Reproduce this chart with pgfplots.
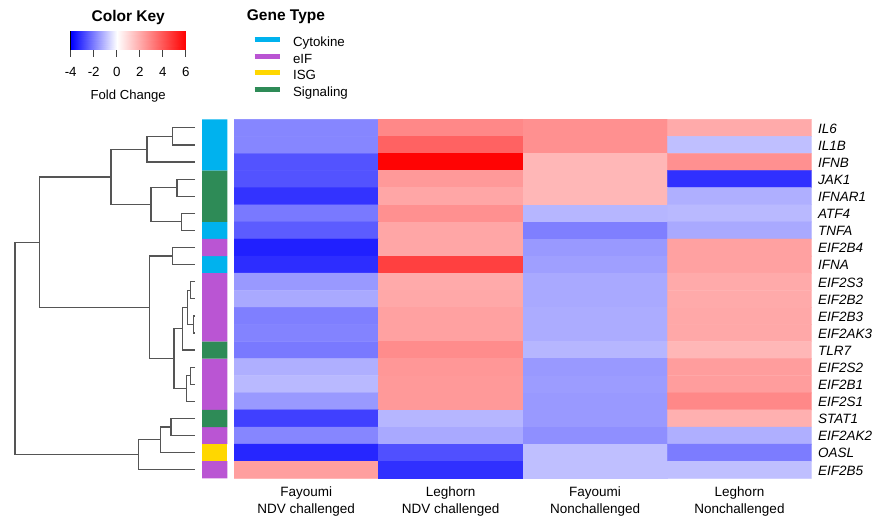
\documentclass[border=0pt]{standalone}
\usepackage{pgfplots}
\pgfplotsset{compat=1.18}
\usepackage{pgfplotstable}
\usepackage{fontspec}
\setmainfont{Liberation Sans}

\definecolor{cyto}{RGB}{0,178,238}
\definecolor{eif}{RGB}{186,85,211}
\definecolor{isg}{RGB}{255,215,0}
\definecolor{sig}{RGB}{46,139,87}
\definecolor{dendro}{RGB}{85,85,85}

% fold change per gene (row) and condition (column)
\pgfplotstableread{
col row fc
0.5 1 -1.9
1.5 1 2.8
2.5 1 2.6
3.5 1 2.0
0.5 2 -1.9
1.5 2 3.7
2.5 2 2.6
3.5 2 -1.0
0.5 3 -2.7
1.5 3 5.9
2.5 3 1.7
3.5 3 2.6
0.5 4 -2.7
1.5 4 2.4
2.5 4 1.7
3.5 4 -3.25
0.5 5 -3.2
1.5 5 2.1
2.5 5 1.7
3.5 5 -1.25
0.5 6 -2.1
1.5 6 2.6
2.5 6 -1.15
3.5 6 -1.1
0.5 7 -2.55
1.5 7 2.1
2.5 7 -2.0
3.5 7 -1.35
0.5 8 -3.5
1.5 8 2.1
2.5 8 -1.6
3.5 8 2.2
0.5 9 -3.3
1.5 9 4.5
2.5 9 -1.5
3.5 9 2.2
0.5 10 -1.6
1.5 10 2.0
2.5 10 -1.35
3.5 10 2.0
0.5 11 -1.35
1.5 11 2.05
2.5 11 -1.35
3.5 11 2.0
0.5 12 -2.0
1.5 12 2.2
2.5 12 -1.3
3.5 12 2.05
0.5 13 -1.95
1.5 13 2.2
2.5 13 -1.3
3.5 13 2.05
0.5 14 -2.1
1.5 14 2.7
2.5 14 -1.15
3.5 14 1.7
0.5 15 -1.25
1.5 15 2.45
2.5 15 -1.6
3.5 15 2.3
0.5 16 -1.1
1.5 16 2.4
2.5 16 -1.55
3.5 16 2.3
0.5 17 -1.6
1.5 17 2.4
2.5 17 -1.6
3.5 17 2.8
0.5 18 -3.0
1.5 18 -1.15
2.5 18 -1.6
3.5 18 1.85
0.5 19 -1.9
1.5 19 -1.35
2.5 19 -1.75
3.5 19 -1.25
0.5 20 -3.4
1.5 20 -2.75
2.5 20 -1.0
3.5 20 -2.05
0.5 21 2.25
1.5 21 -3.25
2.5 21 -1.0
3.5 21 -1.0
}\foldtable

% colour key gradient
\pgfplotstableread{
x y c
-4 0 -4
0 0 0
6 0 6
-4 1 -4
0 1 0
6 1 6
}\keytable

\pgfplotsset{
  fcmap/.style={
    colormap={foldchange}{rgb255(0)=(0,0,255) rgb255(4)=(255,255,255) rgb255(10)=(255,0,0)},
    point meta min=-4, point meta max=6},
  rows/.style={scale only axis, height=359pt, ymin=0.5, ymax=21.5, y dir=reverse},
  dend/.style={dendro, line width=1.2pt, line join=miter},
}

\begin{document}
\begin{tikzpicture}
\useasboundingbox (0,0) rectangle (877pt,517pt);

% ---------- heatmap ----------
\begin{axis}[
  rows, fcmap,
  at={(234pt,38.7pt)}, anchor=south west,
  width=577.7pt,
  xmin=0, xmax=4,
  axis line style={draw=none},
  tick style={draw=none},
  major tick length=0pt,
  xtick={0.5,1.5,2.5,3.5},
  xticklabels={{Fayoumi\\NDV challenged},{Leghorn\\NDV challenged},{Fayoumi\\Nonchallenged},{Leghorn\\Nonchallenged}},
  xticklabel style={align=center, font=\fontsize{13.5}{17.3}\selectfont, anchor=north, inner sep=0pt, yshift=-8pt},
  ytick={1,...,21},
  yticklabels={IL6,IL1B,IFNB,JAK1,IFNAR1,ATF4,TNFA,EIF2B4,IFNA,EIF2S3,EIF2B2,EIF2B3,EIF2AK3,TLR7,EIF2S2,EIF2B1,EIF2S1,STAT1,EIF2AK2,OASL,EIF2B5},
  yticklabel pos=right,
  yticklabel style={font=\fontsize{13.5}{16}\selectfont\itshape, anchor=base west, inner sep=0pt, xshift=6.3pt, yshift=-5.3pt},
]
\addplot[matrix plot*, mesh/cols=4, point meta=explicit, shader=flat corner]
  table[x=col, y=row, meta=fc] {\foldtable};
\end{axis}

% ---------- gene type side bar + legend ----------
\begin{axis}[
  rows,
  at={(202pt,38.7pt)}, anchor=south west,
  width=25.3pt,
  xmin=0, xmax=1,
  hide axis,
  legend style={at={(1.976,1.2323)}, anchor=north west, draw=none, fill=none,
    inner sep=0pt, outer sep=0pt, row sep=0pt,
    font=\fontsize{13.3}{16}\selectfont,
    nodes={inner sep=0pt, text height=11pt, text depth=5.5pt},
    /tikz/every odd column/.append style={column sep=10.8pt}},
  legend cell align=left,
]
\addplot[xbar, bar width=1, bar shift=0pt, fill=cyto, draw=none,
  legend image code/.code={\draw[line width=5.3pt, cyto] (0pt,4.5pt) -- (25pt,4.5pt);}]
  coordinates {(1,1) (1,2) (1,3) (1,7) (1,9)};
\addlegendentry{Cytokine}
\addplot[xbar, bar width=1, bar shift=0pt, fill=eif, draw=none,
  legend image code/.code={\draw[line width=5.3pt, eif] (0pt,4.5pt) -- (25pt,4.5pt);}]
  coordinates {(1,8) (1,10) (1,11) (1,12) (1,13) (1,15) (1,16) (1,17) (1,19) (1,21)};
\addlegendentry{eIF}
\addplot[xbar, bar width=1, bar shift=0pt, fill=isg, draw=none,
  legend image code/.code={\draw[line width=5.3pt, isg] (0pt,4.5pt) -- (25pt,4.5pt);}]
  coordinates {(1,20)};
\addlegendentry{ISG}
\addplot[xbar, bar width=1, bar shift=0pt, fill=sig, draw=none,
  legend image code/.code={\draw[line width=5.3pt, sig] (0pt,4.5pt) -- (25pt,4.5pt);}]
  coordinates {(1,4) (1,5) (1,6) (1,14) (1,18)};
\addlegendentry{Signaling}
\end{axis}

% ---------- row dendrogram ----------
\begin{axis}[
  rows,
  at={(0pt,38.7pt)}, anchor=south west,
  width=195pt,
  xmin=0, xmax=195,
  hide axis, clip=false,
]
\addplot[dend] coordinates {(195,1) (172.3,1) (172.3,2) (195,2)};
\addplot[dend] coordinates {(172.3,1.5) (147,1.5) (147,3) (195,3)};
\addplot[dend] coordinates {(195,4) (177,4) (177,5) (195,5)};
\addplot[dend] coordinates {(195,6) (181.7,6) (181.7,7) (195,7)};
\addplot[dend] coordinates {(177,4.5) (151,4.5) (151,6.5) (181.7,6.5)};
\addplot[dend] coordinates {(147,2.25) (111,2.25) (111,5.5) (151,5.5)};
\addplot[dend] coordinates {(195,8) (172.7,8) (172.7,9) (195,9)};
\addplot[dend] coordinates {(195,10) (190.3,10) (190.3,11) (195,11)};
\addplot[dend] coordinates {(195,12) (193.7,12) (193.7,13) (195,13)};
\addplot[dend] coordinates {(190.3,10.5) (187.3,10.5) (187.3,12.5) (193.7,12.5)};
\addplot[dend] coordinates {(187.3,11.5) (182.7,11.5) (182.7,14) (195,14)};
\addplot[dend] coordinates {(195,15) (190.7,15) (190.7,16) (195,16)};
\addplot[dend] coordinates {(190.7,15.5) (186.3,15.5) (186.3,17) (195,17)};
\addplot[dend] coordinates {(182.7,12.75) (174,12.75) (174,16.25) (186.3,16.25)};
\addplot[dend] coordinates {(172.7,8.5) (149.7,8.5) (149.7,14.5) (174,14.5)};
\addplot[dend] coordinates {(111,3.875) (39.3,3.875) (39.3,11.5) (149.7,11.5)};
\addplot[dend] coordinates {(195,18) (171,18) (171,19) (195,19)};
\addplot[dend] coordinates {(171,18.5) (160.7,18.5) (160.7,20) (195,20)};
\addplot[dend] coordinates {(160.7,19.25) (138.7,19.25) (138.7,21) (195,21)};
\addplot[dend] coordinates {(39.3,7.6875) (15,7.6875) (15,20.125) (138.7,20.125)};
\end{axis}

% ---------- colour key ----------
\begin{axis}[
  fcmap,
  at={(70.7pt,467.7pt)}, anchor=south west,
  scale only axis, width=115pt, height=18.3pt,
  xmin=-4, xmax=6, ymin=0, ymax=1,
  ytick=\empty,
  xtick={-4,-2,0,2,4,6},
  xticklabels={-4,-2,0,2,4,6},
  xtick pos=bottom, tick align=outside,
  major tick length=7.4pt,
  tick style={draw=black!75, line width=0.8pt},
  axis line style={line width=0.8pt},
  xticklabel style={font=\fontsize{13.3}{16}\selectfont, anchor=base, inner sep=0pt, yshift=-20pt},
  title={\bfseries Color Key},
  title style={at={(0.5,1)}, anchor=base, yshift=3pt, inner sep=0pt, font=\fontsize{15.5}{18}\selectfont},
  xlabel={Fold Change},
  xlabel style={at={(0.5,0)}, anchor=base, yshift=-50.5pt, inner sep=0pt, font=\fontsize{13.1}{16}\selectfont},
]
\addplot[surf, shader=interp, mesh/rows=2, point meta=explicit]
  table[x=x, y=y, meta=c] {\keytable};
\end{axis}

% legend heading
\node[anchor=base west, inner sep=0pt, font=\fontsize{15.5}{18}\selectfont\bfseries] at (246.7pt,496pt) {Gene Type};

\end{tikzpicture}
\end{document}
